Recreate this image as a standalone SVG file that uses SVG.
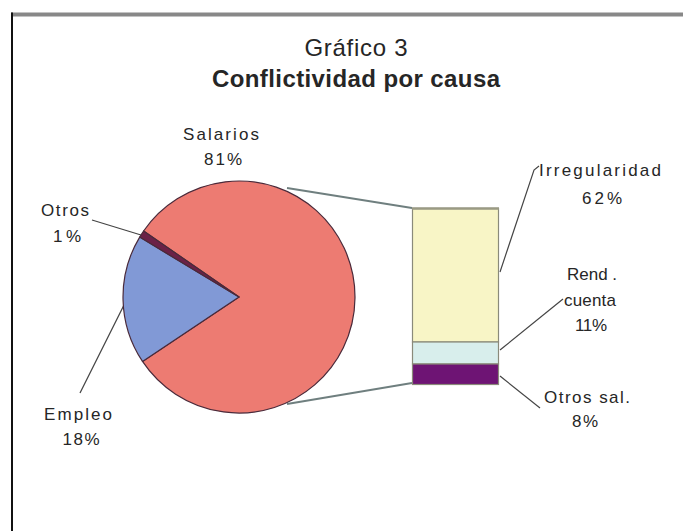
<svg xmlns="http://www.w3.org/2000/svg" width="683" height="531" viewBox="0 0 683 531">
<style>
.t{font-family:"Liberation Sans",Arial,sans-serif;fill:#262626;text-anchor:middle}
.title{font-size:24px}
.lbl{font-size:17px}
.lead{fill:none;stroke:#444;stroke-width:1.2}
.conn{fill:none;stroke:#6f7f7f;stroke-width:1.8}
.slice{stroke:#4a2a3a;stroke-width:1.2;stroke-linejoin:round}
.bar{stroke:#8a8a7a;stroke-width:1.2}
</style>
<rect x="0" y="0" width="683" height="531" fill="#ffffff"/>
<g id="frame">
<line x1="11" y1="14.5" x2="683" y2="14.5" stroke="#888" stroke-width="4"/>
<line x1="12" y1="12.5" x2="12" y2="531" stroke="#111" stroke-width="2"/>
</g>
<g id="title">
<text class="t title" x="356" y="56" textLength="103">Gráfico 3</text>
<text class="t title" x="356" y="87" font-weight="bold" textLength="288">Conflictividad por causa</text>
</g>
<g id="connectors">
<line class="conn" x1="287" y1="188" x2="412" y2="208"/>
<line class="conn" x1="287" y1="404" x2="412" y2="383"/>
<line class="lead" x1="92" y1="220" x2="141" y2="235"/>
<line class="lead" x1="124" y1="305" x2="80" y2="393"/>
<polyline class="lead" points="539,166 534,170 500,272"/>
<line class="lead" x1="563" y1="299" x2="500" y2="350"/>
<line class="lead" x1="500" y1="376" x2="540" y2="408"/>
</g>
<g id="pie-salarios">
<path class="slice" fill="#ED7B72" d="M239,297 L143.6,231.0 A116,116 0 1 1 142.5,361.4 Z"/>
<text class="t lbl" x="221" y="140" textLength="76">Salarios</text>
<text class="t lbl" x="223" y="165" textLength="38">81%</text>
</g>
<g id="pie-empleo">
<path class="slice" fill="#8199D6" d="M239,297 L142.5,361.4 A116,116 0 0 1 139.7,237.1 Z"/>
<text class="t lbl" x="78" y="420" textLength="68">Empleo</text>
<text class="t lbl" x="81" y="445" textLength="37">18%</text>
</g>
<g id="pie-otros">
<path class="slice" fill="#6B2147" d="M239,297 L139.7,237.1 A116,116 0 0 1 143.6,231.0 Z"/>
<text class="t lbl" x="65" y="216" textLength="48">Otros</text>
<text class="t lbl" x="67" y="242" textLength="28">1%</text>
</g>
<g id="bar-irregularidad">
<rect class="bar" x="412.5" y="208.5" width="86" height="133.5" fill="#F8F5C6"/>
<line x1="412" y1="208.5" x2="499" y2="208.5" stroke="#9a9a84" stroke-width="2.5"/>
<text class="t lbl" x="600" y="176" textLength="122">Irregularidad</text>
<text class="t lbl" x="602" y="204" textLength="40">62%</text>
</g>
<g id="bar-rend">
<rect class="bar" x="412.5" y="342" width="86" height="22" fill="#D8EEEC"/>
<text class="t lbl" x="592" y="280">Rend .</text>
<text class="t lbl" x="590" y="306" textLength="52">cuenta</text>
<text class="t lbl" x="591" y="331" textLength="32">11%</text>
</g>
<g id="bar-otros-sal">
<rect class="bar" x="412.5" y="364" width="86" height="20.5" fill="#6E1474"/>
<text class="t lbl" x="587" y="403" textLength="86">Otros sal.</text>
<text class="t lbl" x="585" y="427" textLength="26">8%</text>
</g>
</svg>
